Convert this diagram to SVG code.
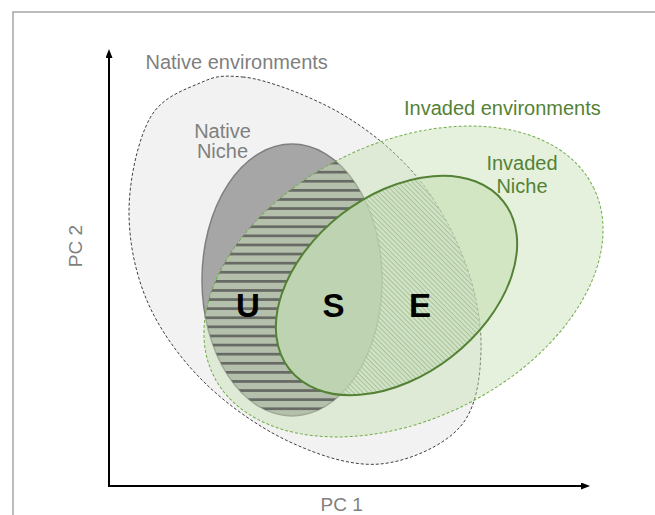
<svg xmlns="http://www.w3.org/2000/svg" width="655" height="515" viewBox="0 0 655 515">
<style>
text{font-family:"Liberation Sans",Arial,sans-serif;}
.gray{fill:#7f7f7f;font-size:20px}
.green{fill:#548235;font-size:20px}
.mid{text-anchor:middle}
.big{font-size:33px;font-weight:bold;fill:#000;text-anchor:middle}
.ax{stroke:#000;stroke-width:2;fill:none}
</style>
<defs>
<path id="ne" d="M243,77 C266,79 311,96.3 340,113 C369,129.7 396.2,152.2 417,177 C437.8,201.8 454.3,233.2 465,262 C475.7,290.8 481.8,322.5 481,350 C480.2,377.5 476.8,408 460,427 C443.2,446 408.3,461.5 380,464 C351.7,466.5 319.2,455.5 290,442 C260.8,428.5 228.7,406.2 205,383 C181.3,359.8 160.7,331.8 148,303 C135.3,274.2 128.7,240.8 129,210 C129.3,179.2 138.2,139.2 150,118 C161.8,96.8 184.5,89.8 200,83 C215.5,76.2 220,75 243,77 Z"/>
<ellipse id="nn" cx="292" cy="280" rx="90" ry="136"/>
<ellipse id="ie" cx="403.5" cy="281.5" rx="212" ry="138" transform="rotate(-26.4 403.5 281.5)"/>
<ellipse id="in" cx="396.5" cy="285.5" rx="136" ry="90" transform="rotate(-38 396.5 285.5)"/>
<clipPath id="clipIE"><use href="#ie"/></clipPath>
<clipPath id="clipIN"><use href="#in"/></clipPath>
<pattern id="stripes" patternUnits="userSpaceOnUse" x="0" y="216.3" width="20" height="9.1"><rect x="0" y="0" width="20" height="2.7" fill="#676a64"/></pattern>
<pattern id="hatch" patternUnits="userSpaceOnUse" width="10" height="3.4" patternTransform="rotate(45)"><line x1="0" y1="0.5" x2="10" y2="0.5" stroke="#9dac94" stroke-width="0.7"/></pattern>
<mask id="mStripes" maskUnits="userSpaceOnUse" x="0" y="0" width="655" height="515">
<g clip-path="url(#clipIE)"><use href="#nn" fill="#fff"/></g>
<use href="#in" fill="#000"/>
</mask>
<mask id="mHatch" maskUnits="userSpaceOnUse" x="0" y="0" width="655" height="515">
<g clip-path="url(#clipIN)"><use href="#ne" fill="#fff"/><use href="#nn" fill="#000"/></g>
</mask>
<marker id="arr" markerUnits="userSpaceOnUse" markerWidth="10" markerHeight="8" refX="0" refY="3.5" orient="auto"><path d="M0,0 L9,3.5 L0,7 Z" fill="#000"/></marker>
</defs>
<path d="M13,515 V12 H655" fill="none" stroke="#a6a6a6" stroke-width="1.5"/>
<g id="native-environments"><use href="#ne" fill="#f2f2f2" stroke="#404040" stroke-width="1" stroke-dasharray="3 2"/></g>
<g id="native-niche"><use href="#nn" fill="#a6a6a6" stroke="#7f7f7f" stroke-width="1.5"/></g>
<g id="invaded-environments"><use href="#ie" fill="#c5e0b4" fill-opacity="0.45" stroke="#70ad47" stroke-width="1" stroke-dasharray="3 2"/></g>
<g id="unfilling-stripes"><rect x="0" y="0" width="655" height="515" fill="url(#stripes)" mask="url(#mStripes)"/></g>
<g id="invaded-niche">
<use href="#in" fill="#c5e0b4" fill-opacity="0.6"/>
<rect x="0" y="0" width="655" height="515" fill="url(#hatch)" mask="url(#mHatch)"/>
<use href="#in" fill="none" stroke="#548235" stroke-width="2"/>
</g>
<g id="axes">
<line class="ax" x1="109" y1="487" x2="109" y2="58" marker-end="url(#arr)"/>
<line class="ax" x1="108" y1="486" x2="581" y2="486" marker-end="url(#arr)"/>
</g>
<g id="labels">
<text class="gray" x="145.5" y="68.5">Native environments</text>
<text class="green" x="404" y="115">Invaded environments</text>
<text class="gray mid" x="222.5" y="137.5">Native</text>
<text class="gray mid" x="222.5" y="158">Niche</text>
<text class="green mid" x="522" y="170">Invaded</text>
<text class="green mid" x="522" y="193">Niche</text>
<text class="big" x="248" y="317">U</text>
<text class="big" x="333.5" y="317">S</text>
<text class="big" x="420" y="317">E</text>
<text class="gray mid" style="font-size:19px" x="341.7" y="510.5">PC 1</text>
<text class="gray mid" style="font-size:19px" transform="translate(81.5,246) rotate(-90)">PC 2</text>
</g>
</svg>
